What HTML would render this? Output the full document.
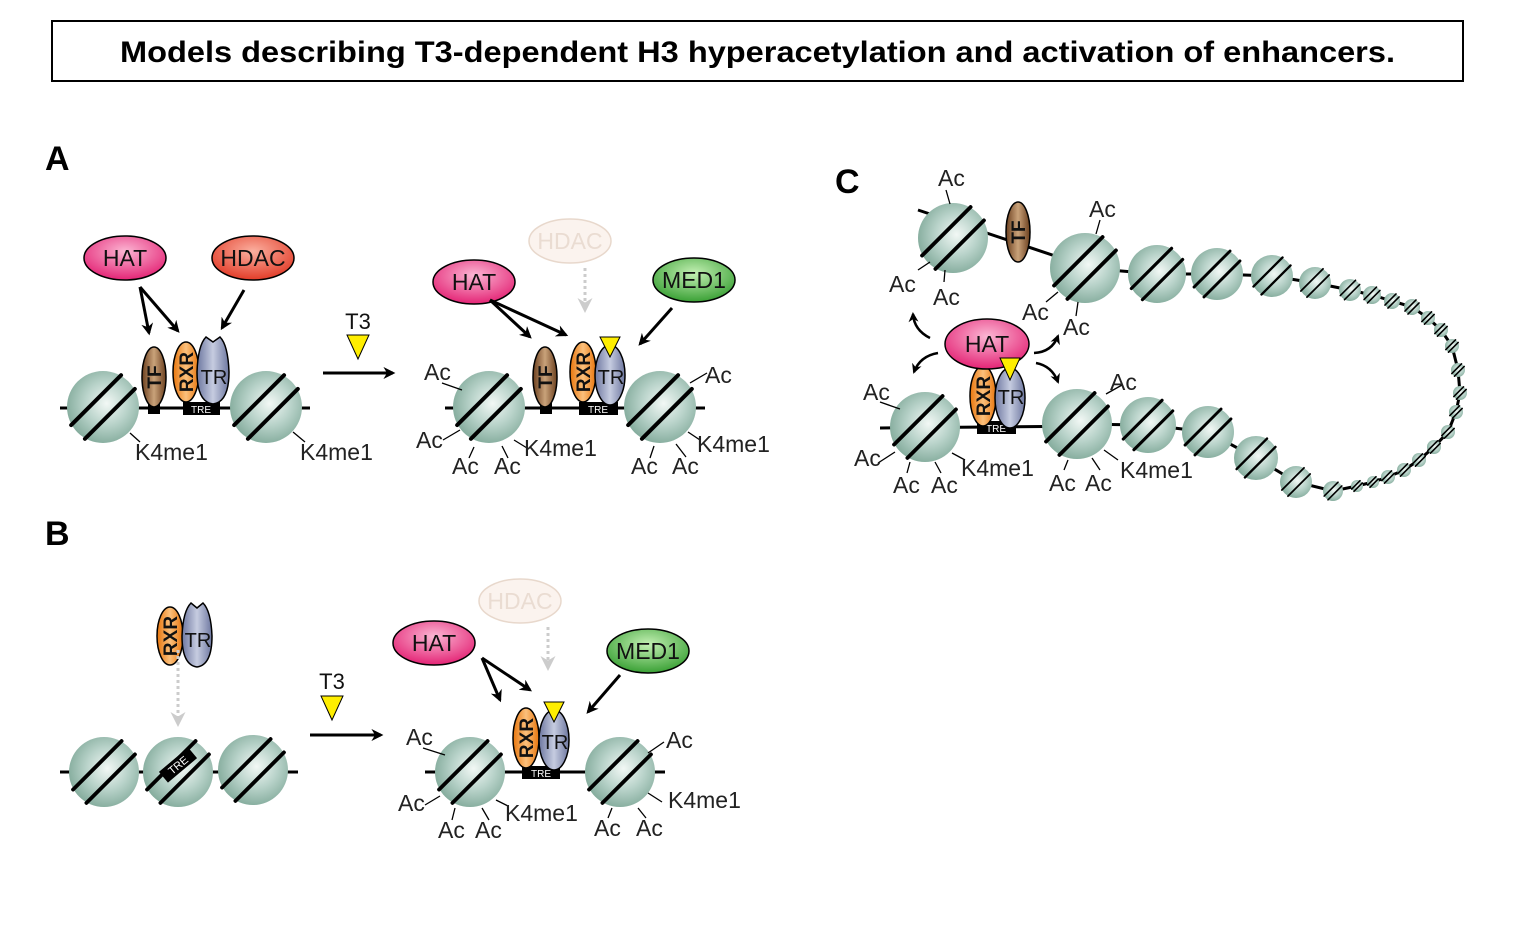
<!DOCTYPE html>
<html><head><meta charset="utf-8"><style>
html,body{margin:0;padding:0;background:#fff;}
svg{display:block;font-family:"Liberation Sans",sans-serif;}
.lbl{font-size:23px;fill:#222;}
.big{font-size:23px;fill:#111;}
</style></head><body>
<svg id="s" width="1537" height="947" viewBox="0 0 1537 947" xmlns="http://www.w3.org/2000/svg">
<defs>
<radialGradient id="ng" cx="0.55" cy="0.45" r="0.6">
<stop offset="0" stop-color="#f2f8f5"/><stop offset="0.5" stop-color="#b9d3ca"/><stop offset="1" stop-color="#7fa898"/></radialGradient>
<radialGradient id="hat" cx="0.5" cy="0.35" r="0.7"><stop offset="0" stop-color="#fbb6d3"/><stop offset="1" stop-color="#e2196e"/></radialGradient>
<radialGradient id="hdac" cx="0.5" cy="0.35" r="0.7"><stop offset="0" stop-color="#fbb0a0"/><stop offset="1" stop-color="#e0331f"/></radialGradient>
<radialGradient id="med" cx="0.5" cy="0.35" r="0.7"><stop offset="0" stop-color="#c4f0b4"/><stop offset="1" stop-color="#2f9a2b"/></radialGradient>
<linearGradient id="tf" x1="0" x2="1"><stop offset="0" stop-color="#6b3f1e"/><stop offset="0.5" stop-color="#c9a27a"/><stop offset="1" stop-color="#6b3f1e"/></linearGradient>
<linearGradient id="rxr" x1="0" x2="1"><stop offset="0" stop-color="#e8750c"/><stop offset="0.5" stop-color="#fbc07c"/><stop offset="1" stop-color="#e8750c"/></linearGradient>
<linearGradient id="tr" x1="0" x2="1"><stop offset="0" stop-color="#6d77a0"/><stop offset="0.5" stop-color="#c6cce0"/><stop offset="1" stop-color="#6d77a0"/></linearGradient>
<marker id="ah" viewBox="0 0 10 10" refX="8" refY="5" markerWidth="4" markerHeight="4" orient="auto"><path d="M0,0 L10,5 L0,10 L3,5 z" fill="#000"/></marker>
<marker id="ahg" viewBox="0 0 10 10" refX="8" refY="5" markerWidth="5" markerHeight="5" orient="auto"><path d="M0,0 L10,5 L0,10 L3,5 z" fill="#ccc"/></marker>
</defs>
<rect x="52" y="21" width="1411" height="60" fill="#fff" stroke="#000" stroke-width="2"/>
<text x="120" y="62" textLength="1275" lengthAdjust="spacingAndGlyphs" font-size="30" font-weight="bold" fill="#000">Models describing T3-dependent H3 hyperacetylation and activation of enhancers.</text>
<text x="45" y="170" font-size="34" font-weight="bold">A</text>
<text x="45" y="545" font-size="34" font-weight="bold">B</text>
<text x="835" y="193" font-size="34" font-weight="bold">C</text>

<g stroke="#000" stroke-width="3" fill="none">
<line x1="60" y1="408" x2="310" y2="408"/>
<line x1="445" y1="408" x2="705" y2="408"/>
<line x1="60" y1="772" x2="298" y2="772"/>
<line x1="425" y1="772" x2="665" y2="772"/>
<line x1="880" y1="428" x2="1100" y2="426"/>
<line x1="918" y1="210" x2="1085" y2="266"/>
<path d="M1085,268 L1157,274 L1217,274 L1272,276 L1315,283 L1350,290 L1372,295 L1392,301 L1412,307 L1428,318 L1441,330 L1452,346 L1458,370 L1460,393 L1456,412 L1448,432 L1434,447 L1419,460 L1404,470 L1388,477 L1373,482 L1357,486 L1333,491 L1296,482 L1256,458 L1208,432 L1148,425 L1077,424"/>
</g>
<g id="nucs"></g>

<g fill="#000">
<rect x="148" y="403" width="12" height="11"/>
<rect x="183" y="402" width="37" height="13"/>
<rect x="540" y="403" width="12" height="11"/>
<rect x="579" y="402" width="39" height="13"/>
<rect x="522" y="766" width="38" height="13"/>
<rect x="977" y="421" width="39" height="13"/>
</g>
<g font-size="10" fill="#fff" text-anchor="middle">
<text x="201" y="413">TRE</text><text x="598" y="413">TRE</text><text x="541" y="777">TRE</text><text x="996" y="432">TRE</text>
</g>

<g stroke="#000" stroke-width="1.5">
<ellipse cx="154" cy="377" rx="12" ry="30" fill="url(#tf)"/>
<ellipse cx="186" cy="372" rx="13" ry="30" fill="url(#rxr)"/>
<path d="M213,342 l-7,-5 q-8,8 -9,35 q0,30 16,32 q16,-2 16,-32 q-1,-27 -9,-35 z" fill="url(#tr)"/>
<ellipse cx="545" cy="377" rx="12" ry="30" fill="url(#tf)"/>
<ellipse cx="583" cy="372" rx="13" ry="30" fill="url(#rxr)"/>
<ellipse cx="610" cy="375" rx="15" ry="30" fill="url(#tr)"/>
<ellipse cx="170" cy="636" rx="13" ry="29" fill="url(#rxr)"/>
<path d="M197,608 l-6,-5 q-8,8 -9,33 q0,29 15,31 q15,-2 15,-31 q-1,-25 -9,-33 z" fill="url(#tr)"/>
<ellipse cx="526" cy="738" rx="13" ry="30" fill="url(#rxr)"/>
<ellipse cx="554" cy="740" rx="15" ry="30" fill="url(#tr)"/>
<ellipse cx="983" cy="396" rx="13" ry="30" fill="url(#rxr)"/>
<ellipse cx="1010" cy="398" rx="15" ry="30" fill="url(#tr)"/>
<ellipse cx="987" cy="344" rx="42" ry="25" fill="url(#hat)"/>
<ellipse cx="1018" cy="232" rx="12" ry="30" fill="url(#tf)"/>
<ellipse cx="125" cy="258" rx="41" ry="22" fill="url(#hat)"/>
<ellipse cx="253" cy="258" rx="41" ry="22" fill="url(#hdac)"/>
<ellipse cx="474" cy="282" rx="41" ry="22" fill="url(#hat)"/>
<ellipse cx="694" cy="280" rx="41" ry="22" fill="url(#med)"/>
<ellipse cx="434" cy="643" rx="41" ry="22" fill="url(#hat)"/>
<ellipse cx="648" cy="651" rx="41" ry="22" fill="url(#med)"/>
</g>
<g stroke="#e8d8cc" stroke-width="1.5" fill="#fbf3ee">
<ellipse cx="570" cy="241" rx="41" ry="22"/>
<ellipse cx="520" cy="601" rx="41" ry="22"/>
</g>
<g fill="#ffee00" stroke="#000" stroke-width="1">
<path d="M600,337 L620,337 L610,357 z"/>
<path d="M544,702 L564,702 L554,722 z"/>
<path d="M1000,358 L1020,358 L1010,380 z"/>
<path d="M347,335 L369,335 L358,359 z"/>
<path d="M321,696 L343,696 L332,720 z"/>
</g>
<g class="big" text-anchor="middle">
<text x="125" y="266">HAT</text><text x="253" y="266">HDAC</text>
<text x="474" y="290">HAT</text><text x="694" y="288">MED1</text>
<text x="434" y="651">HAT</text><text x="648" y="659">MED1</text>
<text x="987" y="352">HAT</text>
<text x="570" y="249" fill="#eadcd2">HDAC</text><text x="520" y="609" fill="#eadcd2">HDAC</text>
<text x="214" y="384" font-size="20">TR</text><text x="611" y="384" font-size="20">TR</text>
<text x="198" y="647" font-size="20">TR</text><text x="555" y="749" font-size="20">TR</text><text x="1011" y="404" font-size="20">TR</text>
<text font-size="19" font-weight="bold" transform="translate(161,377) rotate(-90)">TF</text>
<text font-size="19" font-weight="bold" transform="translate(552,377) rotate(-90)">TF</text>
<text font-size="19" font-weight="bold" transform="translate(1025,232) rotate(-90)">TF</text>
<text font-size="19" font-weight="bold" transform="translate(193,372) rotate(-90)">RXR</text>
<text font-size="19" font-weight="bold" transform="translate(590,372) rotate(-90)">RXR</text>
<text font-size="19" font-weight="bold" transform="translate(177,636) rotate(-90)">RXR</text>
<text font-size="19" font-weight="bold" transform="translate(533,738) rotate(-90)">RXR</text>
<text font-size="19" font-weight="bold" transform="translate(990,396) rotate(-90)">RXR</text>
<text x="358" y="329" font-size="22">T3</text><text x="332" y="689" font-size="22">T3</text>
</g>
<g stroke="#000" stroke-width="3" fill="none" marker-end="url(#ah)">
<path d="M140,287 L149,333"/><path d="M140,287 L178,331"/><path d="M244,290 L222,328"/>
<path d="M490,300 L530,337"/><path d="M490,300 L566,335"/><path d="M672,308 L640,344"/>
<path d="M482,658 L500,700"/><path d="M482,658 L530,690"/><path d="M620,675 L588,712"/>
<path d="M323,373 L393,373"/><path d="M310,735 L381,735"/>
<path d="M930,338 Q914,330 913,314" stroke-width="2.5"/>
<path d="M938,353 Q920,356 914,372" stroke-width="2.5"/>
<path d="M1034,353 Q1052,352 1058,336" stroke-width="2.5"/>
<path d="M1036,363 Q1052,366 1058,382" stroke-width="2.5"/>
</g>
<g stroke="#ccc" stroke-width="3" stroke-dasharray="3,3" fill="none" marker-end="url(#ahg)">
<path d="M585,268 L585,310"/><path d="M548,627 L548,668"/><path d="M178,650 L178,724"/>
</g>
<g stroke="#000" stroke-width="1.3">
<line x1="130" y1="433" x2="140" y2="442"/><line x1="293" y1="432" x2="305" y2="442"/>
<line x1="442" y1="383" x2="462" y2="390"/><line x1="443" y1="440" x2="460" y2="430"/>
<line x1="474" y1="447" x2="469" y2="458"/><line x1="502" y1="446" x2="508" y2="458"/><line x1="514" y1="440" x2="527" y2="448"/>
<line x1="690" y1="383" x2="707" y2="373"/><line x1="688" y1="432" x2="700" y2="440"/><line x1="654" y1="446" x2="650" y2="458"/><line x1="676" y1="444" x2="686" y2="457"/>
<line x1="423" y1="748" x2="445" y2="755"/><line x1="425" y1="805" x2="440" y2="796"/><line x1="455" y1="808" x2="452" y2="820"/><line x1="482" y1="808" x2="489" y2="820"/><line x1="496" y1="800" x2="508" y2="806"/>
<line x1="648" y1="753" x2="664" y2="742"/><line x1="648" y1="793" x2="662" y2="802"/><line x1="612" y1="808" x2="608" y2="818"/><line x1="638" y1="808" x2="646" y2="818"/>
<line x1="946" y1="190" x2="950" y2="204"/><line x1="918" y1="270" x2="930" y2="262"/><line x1="945" y1="270" x2="944" y2="282"/>
<line x1="1100" y1="220" x2="1096" y2="234"/><line x1="1046" y1="302" x2="1058" y2="292"/><line x1="1078" y1="302" x2="1076" y2="316"/>
<line x1="880" y1="402" x2="900" y2="409"/><line x1="878" y1="463" x2="895" y2="452"/><line x1="910" y1="462" x2="907" y2="473"/><line x1="935" y1="462" x2="941" y2="473"/><line x1="952" y1="453" x2="965" y2="460"/>
<line x1="1106" y1="394" x2="1122" y2="385"/><line x1="1068" y1="460" x2="1064" y2="470"/><line x1="1092" y1="458" x2="1100" y2="470"/><line x1="1104" y1="450" x2="1118" y2="460"/>
</g>
<g class="lbl">
<text x="135" y="460">K4me1</text><text x="300" y="460">K4me1</text>
<text x="424" y="380">Ac</text><text x="416" y="448">Ac</text><text x="452" y="474">Ac</text><text x="494" y="474">Ac</text><text x="524" y="456">K4me1</text>
<text x="705" y="383">Ac</text><text x="697" y="452">K4me1</text><text x="631" y="474">Ac</text><text x="672" y="474">Ac</text>
<text x="406" y="745">Ac</text><text x="398" y="811">Ac</text><text x="438" y="838">Ac</text><text x="475" y="838">Ac</text><text x="505" y="821">K4me1</text>
<text x="666" y="748">Ac</text><text x="668" y="808">K4me1</text><text x="594" y="836">Ac</text><text x="636" y="836">Ac</text>
<text x="938" y="186">Ac</text><text x="889" y="292">Ac</text><text x="933" y="305">Ac</text>
<text x="1089" y="217">Ac</text><text x="1022" y="320">Ac</text><text x="1063" y="335">Ac</text>
<text x="863" y="400">Ac</text><text x="854" y="466">Ac</text><text x="893" y="493">Ac</text><text x="931" y="493">Ac</text><text x="961" y="476">K4me1</text>
<text x="1110" y="390">Ac</text><text x="1120" y="478">K4me1</text><text x="1049" y="491">Ac</text><text x="1085" y="491">Ac</text>
</g>
</svg>
<script>
(function(){
var NS="http://www.w3.org/2000/svg",g=document.getElementById("nucs");
var N=[[103,407,36],[266,407,36],[489,407,36],[660,407,36],[104,772,35],[178,772,35],[253,770,35],[470,772,35],[620,772,35],
[953,238,35],[1085,268,35],[925,427,35],[1077,424,35],
[1157,274,29],[1217,274,26],[1272,276,21],[1315,283,16],[1350,290,11],[1372,295,9],[1392,301,8],[1412,307,8],[1428,318,7],[1441,330,7],[1452,346,7],[1458,370,7],[1460,393,7],[1456,412,7],[1448,432,7],[1434,447,7],[1419,460,7],[1404,470,7],[1388,477,7],[1373,482,6],[1357,486,6],[1333,491,10],[1296,482,16],[1256,458,22],[1208,432,26],[1148,425,28]];
function el(n,a){var e=document.createElementNS(NS,n);for(var k in a)e.setAttribute(k,a[k]);g.appendChild(e);return e;}
N.forEach(function(n){var x=n[0],y=n[1],r=n[2];
el("circle",{cx:x,cy:y,r:r,fill:"url(#ng)"});
var w=Math.max(1.6,r*0.11),o=r*0.27,d=r*0.98/Math.SQRT2,p=o/Math.SQRT2;
[-1,1].forEach(function(s){var cx=x+s*p,cy=y+s*p;
el("line",{x1:cx-d,y1:cy+d,x2:cx+d,y2:cy-d,stroke:"#000","stroke-width":w,"stroke-linecap":"round"});});
});
var t=document.createElementNS(NS,"g");t.setAttribute("transform","translate(178,765) rotate(-40)");
var rc=document.createElementNS(NS,"rect");rc.setAttribute("x",-19);rc.setAttribute("y",-7);rc.setAttribute("width",38);rc.setAttribute("height",14);rc.setAttribute("fill","#000");t.appendChild(rc);
var tx=document.createElementNS(NS,"text");tx.setAttribute("y",4);tx.setAttribute("text-anchor","middle");tx.setAttribute("font-size","11");tx.setAttribute("fill","#fff");tx.textContent="TRE";t.appendChild(tx);
g.appendChild(t);
})();
</script>
</body></html>
